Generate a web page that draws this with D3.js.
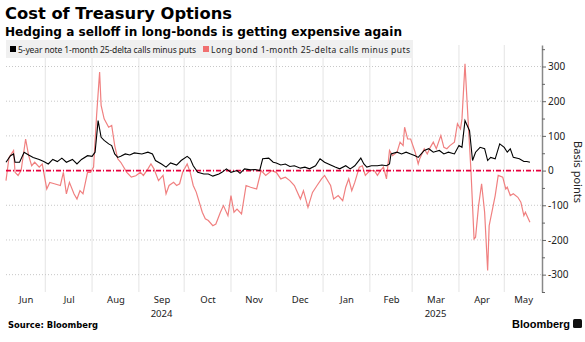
<!DOCTYPE html>
<html>
<head>
<meta charset="utf-8">
<script src="https://cdn.jsdelivr.net/npm/d3@7"></script>
<style>
  body { margin: 0; background: #fff; }
  svg { display: block; }
</style>
</head>
<body>
<script>
// 5-year note 1-month 25-delta calls minus puts (bp)
const noteDates = ["2024-06-05","2024-06-08","2024-06-10","2024-06-11","2024-06-14","2024-06-17","2024-06-20","2024-06-23","2024-06-27","2024-06-30",
  "2024-07-03","2024-07-06","2024-07-09","2024-07-12","2024-07-15","2024-07-19","2024-07-22","2024-07-25","2024-07-29","2024-08-01",
  "2024-08-03","2024-08-05","2024-08-07","2024-08-09","2024-08-12","2024-08-14","2024-08-16","2024-08-18","2024-08-20","2024-08-23",
  "2024-08-26","2024-08-29","2024-09-03","2024-09-07","2024-09-10","2024-09-12","2024-09-16","2024-09-19","2024-09-22","2024-09-26",
  "2024-09-29","2024-10-03","2024-10-05","2024-10-07","2024-10-10","2024-10-14","2024-10-17","2024-10-20","2024-10-24","2024-10-26",
  "2024-10-29","2024-11-01","2024-11-05","2024-11-07","2024-11-10","2024-11-14","2024-11-17","2024-11-20","2024-11-22","2024-11-26",
  "2024-11-29","2024-12-01","2024-12-04","2024-12-07","2024-12-10","2024-12-13","2024-12-17","2024-12-20","2024-12-23","2024-12-27",
  "2024-12-30","2025-01-02","2025-01-06","2025-01-09","2025-01-12","2025-01-16","2025-01-19","2025-01-22","2025-01-26","2025-01-28",
  "2025-01-30","2025-02-02","2025-02-06","2025-02-09","2025-02-12","2025-02-14","2025-02-15","2025-02-19","2025-02-22","2025-02-25",
  "2025-02-28","2025-03-03","2025-03-05","2025-03-09","2025-03-12","2025-03-15","2025-03-19","2025-03-22","2025-03-25","2025-03-29",
  "2025-04-01","2025-04-03","2025-04-05","2025-04-08","2025-04-10","2025-04-12","2025-04-15","2025-04-18","2025-04-20","2025-04-22",
  "2025-04-25","2025-04-28","2025-05-01","2025-05-03","2025-05-05","2025-05-07","2025-05-11","2025-05-14","2025-05-16","2025-05-18"];
const noteValues = [24,43,48,24,24,53,45,38,32,26,
  19,32,26,36,24,32,19,32,43,41,
  53,144,96,87,77,72,48,38,41,48,
  45,51,48,53,48,29,19,10,22,16,
  29,41,34,14,-5,-10,-10,-16,-10,-5,
  5,-5,0,-8,5,2,3,0,34,36,
  24,22,16,19,12,14,7,10,5,14,
  34,24,16,10,5,14,5,14,36,19,
  10,14,14,16,14,19,48,53,48,53,
  48,43,38,58,63,53,58,48,53,48,
  72,67,144,115,29,53,67,63,29,38,
  34,77,67,53,63,38,34,26,26,24];

// Long bond 1-month 25-delta calls minus puts (bp)
const bondDates = ["2024-06-05","2024-06-07","2024-06-10","2024-06-11","2024-06-13","2024-06-15","2024-06-18","2024-06-20","2024-06-22","2024-06-24",
  "2024-06-27","2024-06-29","2024-07-02","2024-07-04","2024-07-07","2024-07-11","2024-07-13","2024-07-15","2024-07-17","2024-07-20",
  "2024-07-22","2024-07-24","2024-07-26","2024-07-29","2024-07-31","2024-08-02","2024-08-04","2024-08-06","2024-08-07","2024-08-09",
  "2024-08-12","2024-08-14","2024-08-16","2024-08-18","2024-08-20","2024-08-24","2024-08-27","2024-08-30","2024-09-02","2024-09-04",
  "2024-09-07","2024-09-09","2024-09-11","2024-09-14","2024-09-17","2024-09-19","2024-09-21","2024-09-24","2024-09-26","2024-09-28",
  "2024-09-30","2024-10-03","2024-10-05","2024-10-07","2024-10-09","2024-10-13","2024-10-15","2024-10-17","2024-10-20","2024-10-22",
  "2024-10-25","2024-10-27","2024-10-30","2024-11-01","2024-11-03","2024-11-05","2024-11-08","2024-11-11","2024-11-14","2024-11-18",
  "2024-11-21","2024-11-24","2024-11-28","2024-12-01","2024-12-04","2024-12-07","2024-12-10","2024-12-13","2024-12-17","2024-12-19",
  "2024-12-22","2024-12-25","2024-12-28","2024-12-31","2025-01-02","2025-01-06","2025-01-08","2025-01-11","2025-01-14","2025-01-16",
  "2025-01-18","2025-01-20","2025-01-22","2025-01-25","2025-01-27","2025-01-29","2025-02-01","2025-02-04","2025-02-06","2025-02-08",
  "2025-02-10","2025-02-12","2025-02-14","2025-02-16","2025-02-19","2025-02-21","2025-02-23","2025-02-24","2025-02-26","2025-02-28",
  "2025-03-03","2025-03-05","2025-03-06","2025-03-09","2025-03-11","2025-03-13","2025-03-15","2025-03-17","2025-03-20","2025-03-22",
  "2025-03-24","2025-03-26","2025-03-29","2025-03-31","2025-04-02","2025-04-03","2025-04-05","2025-04-07","2025-04-09","2025-04-11",
  "2025-04-12","2025-04-14","2025-04-16","2025-04-18","2025-04-20","2025-04-21","2025-04-25","2025-04-27","2025-04-30","2025-05-02",
  "2025-05-03","2025-05-05","2025-05-07","2025-05-10","2025-05-12","2025-05-14","2025-05-15","2025-05-18"];
const bondValues = [-29,38,58,-5,-14,0,91,43,14,24,
  10,19,-53,-34,-38,-43,-5,-67,-34,-67,
  -82,-58,-67,-5,-5,10,159,284,188,149,
  125,130,72,34,24,-5,-19,-15,-5,-14,
  5,19,5,-29,-14,-67,-43,-34,-43,-38,
  -5,19,-5,-43,-62,-120,-139,-144,-159,-154,
  -120,-101,-130,-72,-120,-111,-125,-43,-48,-53,
  0,-14,0,-5,-24,-19,-29,-43,-82,-58,
  -106,-63,-43,-24,-14,-43,-82,-72,-87,-48,
  -24,-58,-34,10,14,-14,0,0,-14,0,
  10,-24,58,43,53,82,72,125,91,91,
  53,19,34,63,48,67,82,63,101,67,
  63,72,82,135,120,149,308,149,-5,-197,
  -192,-101,-38,-120,-288,-159,-72,-14,-19,-53,
  -48,-72,-67,-77,-91,-130,-120,-149];

const monthNames = ["Jun","Jul","Aug","Sep","Oct","Nov","Dec","Jan","Feb","Mar","Apr","May"];
const yearLabels = [["2024-09","2024"],["2025-03","2025"]];
const yTicks = [-300,-200,-100,0,100,200,300];

const W = 585, H = 342;
const parse = d3.timeParse("%Y-%m-%d");

const svg = d3.select("body").append("svg")
  .attr("width", W).attr("height", H)
  .style("font-family", "'Noto Sans', sans-serif");

const x = d3.scaleTime()
  .domain([new Date(2024, 5, 5), new Date(2025, 4, 26)])
  .range([6, 542]);
const y = d3.scaleLinear()
  .domain([-350, 362])
  .range([292, 45]);

// title
svg.append("text").attr("x", 5).attr("y", 19)
  .style("font-family", "'DejaVu Sans', sans-serif")
  .style("font-weight", "bold").style("font-size", "16px").attr("fill", "#000")
  .attr("textLength", 227).attr("lengthAdjust", "spacingAndGlyphs")
  .text("Cost of Treasury Options");
svg.append("text").attr("x", 5).attr("y", 35.5)
  .style("font-family", "'DejaVu Sans', sans-serif")
  .style("font-weight", "bold").style("font-size", "11.5px").attr("fill", "#000")
  .attr("textLength", 397).attr("lengthAdjust", "spacingAndGlyphs")
  .text("Hedging a selloff in long-bonds is getting expensive again");

// vertical month gridlines
const monthStarts = d3.timeMonth.range(new Date(2024, 6, 1), new Date(2025, 5, 1));
svg.append("g").selectAll("line")
  .data(monthStarts)
  .join("line")
  .attr("x1", d => x(d)).attr("x2", d => x(d))
  .attr("y1", 45).attr("y2", 292)
  .attr("stroke", "#e4e4e4").attr("stroke-width", 1);

// horizontal dotted gridlines
svg.append("g").selectAll("line")
  .data(yTicks.filter(d => d !== 0))
  .join("line")
  .attr("x1", 6).attr("x2", 542)
  .attr("y1", d => y(d)).attr("y2", d => y(d))
  .attr("stroke", "#c8c8c8").attr("stroke-width", 1)
  .attr("stroke-dasharray", "1,2");

// legend band
svg.append("rect").attr("x", 6).attr("y", 40).attr("width", 407).attr("height", 18)
  .attr("fill", "#f0f0f0");
const legend = [
  {label: "5-year note 1-month 25-delta calls minus puts", color: "#000", x: 10, w: 178},
  {label: "Long bond 1-month 25-delta calls minus puts", color: "#f07070", x: 203, w: 199}
];
legend.forEach(l => {
  svg.append("rect").attr("x", l.x).attr("y", 46).attr("width", 6).attr("height", 6).attr("fill", l.color);
  svg.append("text").attr("x", l.x + 8).attr("y", 52.5)
    .style("font-size", "8.5px").attr("fill", "#222")
    .attr("textLength", l.w).attr("lengthAdjust", "spacing")
    .text(l.label);
});

// series
const line = d3.line().x(d => x(d[0])).y(d => y(d[1]));
const bond = bondDates.map((d, i) => [parse(d), bondValues[i]]);
const note = noteDates.map((d, i) => [parse(d), noteValues[i]]);

svg.append("path").datum(bond)
  .attr("d", line).attr("fill", "none")
  .attr("stroke", "#f08080").attr("stroke-width", 1.2);

// zero line
svg.append("line")
  .attr("x1", 6).attr("x2", 542)
  .attr("y1", y(0)).attr("y2", y(0))
  .attr("stroke", "#e8003d").attr("stroke-width", 1.6)
  .attr("stroke-dasharray", "5,2,1,2");

svg.append("path").datum(note)
  .attr("d", line).attr("fill", "none")
  .attr("stroke", "#000").attr("stroke-width", 1.1);

// y axis on the right
const yAxis = svg.append("g")
  .attr("transform", "translate(542,0)")
  .call(d3.axisRight(y).tickValues(yTicks).tickSize(4).tickSizeOuter(0).tickFormat(d => String(d)));
svg.append("g")
  .attr("transform", "translate(542,0)")
  .call(d3.axisRight(y).tickValues(d3.range(-350, 351, 100)).tickSize(3).tickSizeOuter(0).tickFormat(""))
  .select(".domain").remove();
svg.selectAll(".tick line").attr("stroke", "#666");
yAxis.select(".domain").attr("stroke", "#888").attr("stroke-width", 1.5);
yAxis.selectAll("text").attr("x", 6).attr("fill", "#222")
  .style("font-size", "10px").style("font-family", "'Noto Sans', sans-serif");

svg.append("text")
  .attr("transform", "translate(574,172) rotate(90)")
  .attr("text-anchor", "middle")
  .style("font-size", "11px").attr("fill", "#222")
  .text("Basis points");

// month labels centred in each visible month
const [d0, d1] = x.domain();
const months = monthNames.map((m, i) => {
  const s = new Date(2024, 5 + i, 1), e = new Date(2024, 6 + i, 1);
  const a = s < d0 ? d0 : s, b = e > d1 ? d1 : e;
  return {label: m, mid: new Date((+a + +b) / 2), start: s};
});
const xAxis = svg.append("g")
  .attr("transform", "translate(0,292)")
  .call(d3.axisBottom(x).tickValues(months.map(m => m.mid)).tickSize(0)
    .tickFormat((d, i) => months[i].label));
xAxis.select(".domain").remove();
xAxis.selectAll("text").attr("y", 4).attr("fill", "#222")
  .style("font-size", "9.5px").style("font-family", "'Noto Sans', sans-serif");

yearLabels.forEach(([m, t]) => {
  const mm = months.find(k => d3.timeFormat("%Y-%m")(k.start) === m);
  svg.append("text").attr("x", x(mm.mid)).attr("y", 317)
    .attr("text-anchor", "middle").style("font-size", "9.5px").attr("fill", "#222")
    .text(t);
});

// footer
svg.append("text").attr("x", 8).attr("y", 328)
  .style("font-family", "'DejaVu Sans', sans-serif")
  .style("font-weight", "bold").style("font-size", "8.5px").attr("fill", "#000")
  .attr("textLength", 90).attr("lengthAdjust", "spacingAndGlyphs")
  .text("Source: Bloomberg");
svg.append("text").attr("x", 570).attr("y", 328)
  .attr("text-anchor", "end")
  .style("font-family", "'Liberation Sans', Arial, sans-serif")
  .style("font-weight", "bold").style("font-size", "11px").attr("fill", "#000")
  .text("Bloomberg");
svg.append("rect").attr("x", 573).attr("y", 319).attr("width", 9).attr("height", 9)
  .attr("rx", 1.5).attr("fill", "#111");
</script>
</body>
</html>
